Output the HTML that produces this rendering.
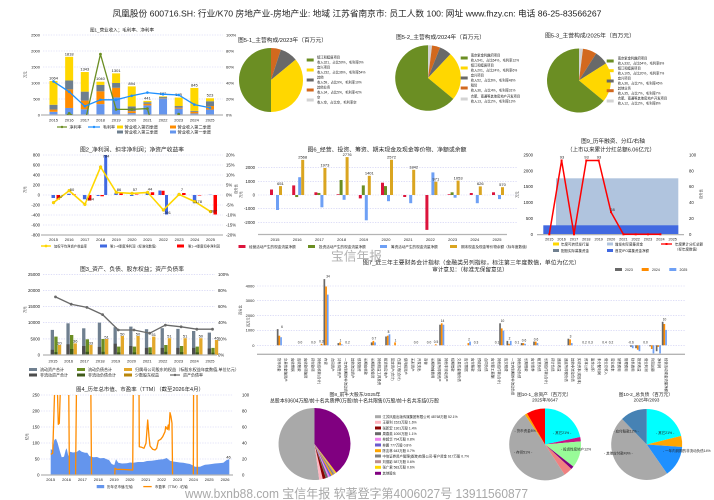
<!DOCTYPE html>
<html><head><meta charset="utf-8">
<style>
html,body{margin:0;padding:0;background:#fff;}
svg{display:block;}
text{font-family:"Liberation Sans","Noto Sans CJK SC",sans-serif;fill:#222;}
.g{stroke:#c9c9f2;stroke-width:.6;stroke-dasharray:1.3,1.3;fill:none;}
.ax{stroke:#b4b4b4;stroke-width:1.3;}
.tk{font-size:4.3px;}
.tk1{font-size:4px;}
.ttl{font-size:5.6px;}
.lg{font-size:3.5px;}
.sm{font-size:3.3px;}
.vl{font-size:3.4px;fill:#333;}
</style></head><body>
<svg width="714" height="500" viewBox="0 0 714 500" xmlns="http://www.w3.org/2000/svg">
<defs>
<clipPath id="c1"><rect x="41" y="33" width="185" height="82"/></clipPath>
<clipPath id="c4"><rect x="40" y="395" width="194" height="80"/></clipPath>
</defs>
<rect width="714" height="500" fill="#fff"/>

<!-- HEADER -->
<text x="357" y="16.5" text-anchor="middle" style="font-size:8.5px" textLength="489" lengthAdjust="spacingAndGlyphs">凤凰股份 600716.SH:  行业/K70 房地产业-房地产业:  地域 江苏省南京市:  员工人数 100:  网址 www.fhzy.cn:  电话 86-25-83566267</text>

<!-- ============ CHART 1 ============ -->
<text x="122" y="31.5" text-anchor="middle" style="font-size:4.6px" textLength="64" lengthAdjust="spacingAndGlyphs">图1_营业收入；毛利率、净利率</text>
<g>
<line class="g" x1="43" y1="35" x2="223" y2="35"/><line class="g" x1="43" y1="51" x2="223" y2="51"/><line class="g" x1="43" y1="67" x2="223" y2="67"/><line class="g" x1="43" y1="83" x2="223" y2="83"/><line class="g" x1="43" y1="99" x2="223" y2="99"/>
</g>
<g class="tk1" text-anchor="end">
<text x="40" y="36.5">2500</text><text x="40" y="52.5">2000</text><text x="40" y="68.5">1500</text><text x="40" y="84.5">1000</text><text x="40" y="100.5">500</text><text x="40" y="116.5">0</text>
</g>
<g class="tk1">
<text x="226" y="36.5">100%</text><text x="226" y="52.5">80%</text><text x="226" y="68.5">60%</text><text x="226" y="84.5">40%</text><text x="226" y="100.5">20%</text><text x="226" y="116.5">0%</text>
</g>
<text class="sm" transform="translate(26.5,78) rotate(-90)">万元</text>
<g>
<rect x="49.5" y="111.8" width="8" height="3.2" fill="#6495ed"/><rect x="49.5" y="109.56" width="8" height="2.24" fill="#ff8c00"/><rect x="49.5" y="104.76" width="8" height="4.8" fill="#6e7f8f"/><rect x="49.5" y="80.95" width="8" height="23.81" fill="#ffd700"/>
<rect x="65.15" y="107.96" width="8" height="7.04" fill="#6495ed"/><rect x="65.15" y="89.4" width="8" height="18.56" fill="#ff8c00"/><rect x="65.15" y="80.44" width="8" height="8.96" fill="#6e7f8f"/><rect x="65.15" y="56.82" width="8" height="23.62" fill="#ffd700"/>
<rect x="80.8" y="109.24" width="8" height="5.76" fill="#6495ed"/><rect x="80.8" y="100.6" width="8" height="8.64" fill="#ff8c00"/><rect x="80.8" y="91.64" width="8" height="8.96" fill="#6e7f8f"/><rect x="80.8" y="72.02" width="8" height="19.62" fill="#ffd700"/>
<rect x="96.45" y="104.12" width="8" height="10.88" fill="#6495ed"/><rect x="96.45" y="91.32" width="8" height="12.8" fill="#ff8c00"/><rect x="96.45" y="84.92" width="8" height="6.4" fill="#6e7f8f"/><rect x="96.45" y="81.72" width="8" height="3.2" fill="#ffd700"/>
<rect x="112.1" y="97.4" width="8" height="17.6" fill="#6495ed"/><rect x="112.1" y="87.8" width="8" height="9.6" fill="#ff8c00"/><rect x="112.1" y="83" width="8" height="4.8" fill="#6e7f8f"/><rect x="112.1" y="73.37" width="8" height="9.63" fill="#ffd700"/>
<rect x="127.75" y="113.08" width="8" height="1.92" fill="#6495ed"/><rect x="127.75" y="111.16" width="8" height="1.92" fill="#ff8c00"/><rect x="127.75" y="106.36" width="8" height="4.8" fill="#6e7f8f"/><rect x="127.75" y="86.39" width="8" height="19.97" fill="#ffd700"/>
<rect x="143.4" y="105.4" width="8" height="9.6" fill="#6495ed"/><rect x="143.4" y="103.8" width="8" height="1.6" fill="#ff8c00"/><rect x="143.4" y="102.2" width="8" height="1.6" fill="#6e7f8f"/><rect x="143.4" y="100.89" width="8" height="1.31" fill="#ffd700"/>
<rect x="159.05" y="98.68" width="8" height="16.32" fill="#6495ed"/><rect x="159.05" y="98.36" width="8" height=".32" fill="#ff8c00"/><rect x="159.05" y="97.08" width="8" height="1.28" fill="#6e7f8f"/><rect x="159.05" y="96.38" width="8" height=".7" fill="#ffd700"/>
<rect x="174.7" y="108.6" width="8" height="6.4" fill="#6495ed"/><rect x="174.7" y="107.64" width="8" height=".96" fill="#ff8c00"/><rect x="174.7" y="106.04" width="8" height="1.6" fill="#6e7f8f"/><rect x="174.7" y="97.56" width="8" height="8.48" fill="#ffd700"/>
<rect x="190.35" y="113.4" width="8" height="1.6" fill="#6495ed"/><rect x="190.35" y="111.8" width="8" height="1.6" fill="#ff8c00"/><rect x="190.35" y="110.84" width="8" height=".96" fill="#6e7f8f"/><rect x="190.35" y="87.96" width="8" height="22.88" fill="#ffd700"/>
<rect x="206" y="109.56" width="8" height="5.44" fill="#6495ed"/><rect x="206" y="106.04" width="8" height="3.52" fill="#ff8c00"/><rect x="206" y="101.24" width="8" height="4.8" fill="#6e7f8f"/><rect x="206" y="98.26" width="8" height="2.98" fill="#ffd700"/>
</g>
<line class="ax" x1="41" y1="115" x2="223" y2="115"/>
<g class="tk1" text-anchor="middle">
<text x="53.5" y="79.5">1064</text><text x="69.15" y="55.3">1818</text><text x="84.8" y="70.5">1343</text><text x="100.45" y="80.2">1040</text><text x="116.1" y="71.8">1301</text><text x="131.75" y="84.9">894</text><text x="147.4" y="99.4">441</text><text x="163.05" y="94.9">582</text><text x="178.7" y="96">545</text><text x="194.35" y="86.4">845</text><text x="210" y="96.7">523</text>
</g>
<g clip-path="url(#c1)">
<polyline points="53.5,126.2 69.15,113.4 84.8,123 100.45,54.2 116.1,109.4 131.75,109.4 147.4,108.6 163.05,163 178.7,114.2 194.35,131 210,171" fill="none" stroke="#6b8e23" stroke-width="1.3"/>
<g fill="#6b8e23"><circle cx="69.15" cy="113.4" r="1.4"/><circle cx="100.45" cy="54.2" r="1.4"/><circle cx="116.1" cy="109.4" r="1.4"/><circle cx="131.75" cy="109.4" r="1.4"/><circle cx="147.4" cy="108.6" r="1.4"/><circle cx="178.7" cy="114.2" r="1.4"/></g>
</g>
<polyline points="53.5,81.4 69.15,91.8 84.8,106.2 100.45,99.8 116.1,99.8 131.75,95.8 147.4,92.6 163.05,94.2 178.7,95 194.35,104.6 210,107.8" fill="none" stroke="#1e90ff" stroke-width="1.3"/>
<g fill="#1e90ff"><circle cx="53.5" cy="81.4" r="1.3"/><circle cx="69.15" cy="91.8" r="1.3"/><circle cx="84.8" cy="106.2" r="1.3"/><circle cx="100.45" cy="99.8" r="1.3"/><circle cx="116.1" cy="99.8" r="1.3"/><circle cx="131.75" cy="95.8" r="1.3"/><circle cx="147.4" cy="92.6" r="1.3"/><circle cx="163.05" cy="94.2" r="1.3"/><circle cx="178.7" cy="95" r="1.3"/><circle cx="194.35" cy="104.6" r="1.3"/><circle cx="210" cy="107.8" r="1.3"/></g>
<g class="tk1" text-anchor="middle">
<text x="53.5" y="121.3">2015</text><text x="69.15" y="121.3">2016</text><text x="84.8" y="121.3">2017</text><text x="100.45" y="121.3">2018</text><text x="116.1" y="121.3">2019</text><text x="131.75" y="121.3">2020</text><text x="147.4" y="121.3">2021</text><text x="163.05" y="121.3">2022</text><text x="178.7" y="121.3">2023</text><text x="194.35" y="121.3">2024</text><text x="210" y="121.3">2025</text>
</g>
<line x1="57" y1="127" x2="67" y2="127" stroke="#6b8e23" stroke-width="1.2"/><circle cx="62" cy="127" r="1.2" fill="#6b8e23"/>
<text x="69.5" y="128.6" style="font-size:4px">净利率</text>
<line x1="88" y1="127" x2="100" y2="127" stroke="#1e90ff" stroke-width="1.2"/><circle cx="94" cy="127" r="1.2" fill="#1e90ff"/>
<text x="103" y="128.6" style="font-size:4px">毛利率</text>
<rect x="117" y="125.5" width="6" height="3" fill="#ffd700"/><text x="124.5" y="128.6" style="font-size:4.2px">营业收入第四季度</text>
<rect x="170" y="125.5" width="6" height="3" fill="#ff8c00"/><text x="177.5" y="128.6" style="font-size:4.2px">营业收入第二季度</text>
<rect x="117" y="130.5" width="6" height="3" fill="#6e7f8f"/><text x="124.5" y="133.6" style="font-size:4.2px">营业收入第三季度</text>
<rect x="170" y="130.5" width="6" height="3" fill="#6495ed"/><text x="177.5" y="133.6" style="font-size:4.2px">营业收入第一季度</text>

<!-- ============ PIE 5-1 ============ -->
<text x="238" y="42" class="ttl" textLength="89" lengthAdjust="spacingAndGlyphs">图5-1_主营构成/2023年（百万元）</text>
<path d="M271,80 L271,48 A32,32 0 0 1 280.89,49.57 Z" fill="#d2691e"/>
<path d="M271,80 L280.89,49.57 A32,32 0 0 1 295.66,59.6 Z" fill="#696969"/>
<path d="M271,80 L295.66,59.6 A32,32 0 0 1 271,112 Z" fill="#ffd700"/>
<path d="M271,80 L271,112 A32,32 0 0 1 271,48 Z" fill="#6b8e23"/>
<g class="sm">
<rect x="306.7" y="58.5" width="7" height="3" fill="#6b8e23"/><text x="317" y="58.7">镇江和睦居项目</text><text x="317" y="63.7">收入321，占比50%，毛利率0%</text>
<rect x="306.7" y="68.5" width="7" height="3" fill="#ffd700"/><text x="317" y="68.7">宜兴项目</text><text x="317" y="73.7">收入232，占比36%，毛利率54%</text>
<rect x="306.7" y="78.5" width="7" height="3" fill="#696969"/><text x="317" y="78.7">其他</text><text x="317" y="83.7">收入59，占比9%，毛利率10%</text>
<rect x="306.7" y="88.5" width="7" height="3" fill="#d2691e"/><text x="317" y="88.7">其他业务</text><text x="317" y="93.7">收入34，占比5%，毛利率42%</text>
<rect x="306.7" y="98.5" width="7" height="3" fill="#d3d3d3"/><text x="317" y="98.7">空</text><text x="317" y="103.7">收入空，占比空，毛利率空</text>
</g>

<!-- ============ PIE 5-2 ============ -->
<text x="396" y="39" class="ttl" textLength="89" lengthAdjust="spacingAndGlyphs">图5-2_主营构成/2024年（百万元）</text>
<path d="M428,78 L428,45.2 A32.8,32.8 0 0 1 432.11,45.46 Z" fill="#d3d3d3"/>
<path d="M428,78 L432.11,45.46 A32.8,32.8 0 0 1 440.07,47.5 Z" fill="#d2691e"/>
<path d="M428,78 L440.07,47.5 A32.8,32.8 0 0 1 450.45,54.09 Z" fill="#696969"/>
<path d="M428,78 L450.45,54.09 A32.8,32.8 0 0 1 453.27,98.91 Z" fill="#ffd700"/>
<path d="M428,78 L453.27,98.91 A32.8,32.8 0 1 1 428,45.2 Z" fill="#6b8e23"/>
<g class="sm">
<rect x="460.7" y="56.5" width="7" height="3" fill="#6b8e23"/><text x="470.7" y="56.7">南京紫金利趣府项目</text><text x="470.7" y="61.7">收入541，占比64%，毛利率12%</text>
<rect x="460.7" y="66.5" width="7" height="3" fill="#ffd700"/><text x="470.7" y="66.7">镇江和睦居项目</text><text x="470.7" y="71.7">收入201，占比24%，毛利率6%</text>
<rect x="460.7" y="76.5" width="7" height="3" fill="#696969"/><text x="470.7" y="76.7">宜兴项目</text><text x="470.7" y="81.7">收入52，占比6%，毛利率48%</text>
<rect x="460.7" y="86.5" width="7" height="3" fill="#d2691e"/><text x="470.7" y="86.7">租赁</text><text x="470.7" y="91.7">收入36，占比4%，毛利率31%</text>
<rect x="460.7" y="97.5" width="7" height="3" fill="#d3d3d3"/><text x="470.7" y="97.7">合肥、南通等其他房地产开发项目</text><text x="470.7" y="102.7">收入13，占比2%，毛利率13%</text>
</g>

<!-- ============ PIE 5-3 ============ -->
<text x="545" y="37.7" class="ttl" textLength="90" lengthAdjust="spacingAndGlyphs">图5-3_主营构成/2025年（百万元）</text>
<path d="M579,80.5 L579,48.5 A32,32 0 0 1 583.01,48.75 Z" fill="#d3d3d3"/>
<path d="M579,80.5 L583.01,48.75 A32,32 0 0 1 596.15,53.48 Z" fill="#d2691e"/>
<path d="M579,80.5 L596.15,53.48 A32,32 0 0 1 606.02,63.35 Z" fill="#696969"/>
<path d="M579,80.5 L606.02,63.35 A32,32 0 0 1 603.66,100.9 Z" fill="#ffd700"/>
<path d="M579,80.5 L603.66,100.9 A32,32 0 1 1 579,48.5 Z" fill="#6b8e23"/>
<g class="sm">
<rect x="606.7" y="59.5" width="7" height="3" fill="#6b8e23"/><text x="617.7" y="59.7">南京紫金利趣府项目</text><text x="617.7" y="64.7">收入332，占比64%，毛利率8%</text>
<rect x="606.7" y="69.2" width="7" height="3" fill="#ffd700"/><text x="617.7" y="69.4">镇江和睦居项目</text><text x="617.7" y="74.4">收入105，占比20%，毛利率7%</text>
<rect x="606.7" y="79.5" width="7" height="3" fill="#696969"/><text x="617.7" y="79.7">宜兴项目</text><text x="617.7" y="84.7">收入36，占比7%，毛利率45%</text>
<rect x="606.7" y="89.2" width="7" height="3" fill="#d2691e"/><text x="617.7" y="89.4">其他业务</text><text x="617.7" y="94.4">收入35，占比7%，毛利率7%</text>
<rect x="606.7" y="99.5" width="7" height="3" fill="#d3d3d3"/><text x="617.7" y="99.7">合肥、南通等其他房地产开发项目</text><text x="617.7" y="104.7">收入12，占比2%，毛利率8%</text>
</g>

<!-- ============ CHART 2 ============ -->
<text x="132" y="151.5" text-anchor="middle" class="ttl" textLength="104" lengthAdjust="spacingAndGlyphs">图2_净利润、扣非净利润；净资产收益率</text>
<g>
<line class="g" x1="43" y1="155" x2="223" y2="155"/><line class="g" x1="43" y1="165" x2="223" y2="165"/><line class="g" x1="43" y1="175" x2="223" y2="175"/><line class="g" x1="43" y1="185" x2="223" y2="185"/><line class="g" x1="43" y1="195" x2="223" y2="195"/><line class="g" x1="43" y1="205" x2="223" y2="205"/><line class="g" x1="43" y1="215" x2="223" y2="215"/><line class="g" x1="43" y1="225" x2="223" y2="225"/>
</g>
<g class="tk" text-anchor="end">
<text x="40" y="156.5">800</text><text x="40" y="166.5">600</text><text x="40" y="176.5">400</text><text x="40" y="186.5">200</text><text x="40" y="196.5">0</text><text x="40" y="206.5">-200</text><text x="40" y="216.5">-400</text><text x="40" y="226.5">-600</text><text x="40" y="236.5">-800</text>
</g>
<g class="tk">
<text x="226" y="156.5">20%</text><text x="226" y="166.5">15%</text><text x="226" y="176.5">10%</text><text x="226" y="186.5">5%</text><text x="226" y="196.5">0%</text><text x="226" y="206.5">-5%</text><text x="226" y="216.5">-10%</text><text x="226" y="226.5">-15%</text><text x="226" y="236.5">-20%</text>
</g>
<text class="sm" transform="translate(26,193) rotate(-90)">万元</text>
<text class="sm" transform="translate(237,194) rotate(-90)">百分比</text>
<g>
<rect x="51.5" y="195" width="3.5" height="3" fill="#4169e1"/><rect x="56.5" y="195" width="3.5" height="4.5" fill="#ff0000"/>
<rect x="67.2" y="193.75" width="3.5" height="1.25" fill="#4169e1"/><rect x="72.2" y="194.25" width="3.5" height=".75" fill="#ff0000"/>
<rect x="82.9" y="195" width="3.5" height="4.25" fill="#4169e1"/><rect x="87.9" y="195" width="3.5" height="5.5" fill="#ff0000"/>
<rect x="96.6" y="195" width="3" height="1" fill="#4169e1"/><rect x="100.4" y="195" width="3.5" height="1.25" fill="#ff0000"/><rect x="104.2" y="155" width="3" height="40" fill="#4169e1"/>
<rect x="114.3" y="193.25" width="3.5" height="1.75" fill="#4169e1"/><rect x="119.3" y="193.5" width="3.5" height="1.5" fill="#ff0000"/>
<rect x="130" y="195" width="3.5" height="1" fill="#4169e1"/><rect x="135" y="194.5" width="3.5" height=".5" fill="#ff0000"/>
<rect x="145.7" y="193" width="3.5" height="2" fill="#4169e1"/><rect x="150.7" y="192.25" width="3.5" height="2.75" fill="#ff0000"/>
<rect x="158.4" y="190.5" width="3" height="4.5" fill="#4169e1"/><rect x="161.6" y="190.75" width="3" height="4.25" fill="#ff0000"/><rect x="165" y="195" width="3" height="19.5" fill="#4169e1"/>
<rect x="177.1" y="194.7" width="3.5" height=".3" fill="#4169e1"/><rect x="182.1" y="193" width="3.5" height="2" fill="#ff0000"/>
<rect x="192.8" y="195" width="3.5" height="8.25" fill="#4169e1"/><rect x="197.8" y="195" width="3.5" height=".5" fill="#ff0000"/>
<rect x="208.5" y="194.75" width="3.5" height=".25" fill="#4169e1"/><rect x="213.5" y="195" width="3.5" height="19.5" fill="#ff0000"/>
</g>
<line class="ax" x1="41" y1="235" x2="223" y2="235"/>
<polyline points="53.5,202.6 69.2,190.6 84.9,204.4 100.6,167 116.3,192.4 132,193.4 147.7,192.4 163.4,210 179.1,194.4 194.8,201.6 210.5,211.6" fill="none" stroke="#ffd700" stroke-width="1.6"/>
<g fill="#ffd700" stroke="#e0b800" stroke-width=".3"><circle cx="53.5" cy="202.6" r="1.5"/><circle cx="69.2" cy="190.6" r="1.5"/><circle cx="84.9" cy="204.4" r="1.5"/><circle cx="100.6" cy="167" r="1.5"/><circle cx="116.3" cy="192.4" r="1.5"/><circle cx="132" cy="193.4" r="1.5"/><circle cx="147.7" cy="192.4" r="1.5"/><circle cx="163.4" cy="210" r="1.5"/><circle cx="179.1" cy="194.4" r="1.5"/><circle cx="194.8" cy="201.6" r="1.5"/><circle cx="210.5" cy="211.6" r="1.5"/></g>
<g class="tk1" text-anchor="middle">
<text x="60" y="198">-67</text><text x="72" y="191">50</text><text x="90" y="200.5">-104</text><text x="106" y="157.5">784</text><text x="119" y="191">86</text><text x="135" y="191">57</text><text x="150" y="190.5">44</text><text x="167" y="214">-391</text><text x="182" y="191">7</text><text x="198" y="203">-178</text><text x="213" y="212.5">-387</text>
</g>
<g class="tk1" text-anchor="middle">
<text x="53.5" y="240.8">2015</text><text x="69.2" y="240.8">2016</text><text x="84.9" y="240.8">2017</text><text x="100.6" y="240.8">2018</text><text x="116.3" y="240.8">2019</text><text x="132" y="240.8">2020</text><text x="147.7" y="240.8">2021</text><text x="163.4" y="240.8">2022</text><text x="179.1" y="240.8">2023</text><text x="194.8" y="240.8">2024</text><text x="210.5" y="240.8">2025</text>
</g>
<line x1="41" y1="246" x2="51" y2="246" stroke="#ffd700" stroke-width="1.4"/><circle cx="46" cy="246" r="1.4" fill="#ffd700"/>
<text x="54" y="247.3" class="sm">加权平均净资产收益率</text>
<rect x="100" y="244.5" width="7" height="3" fill="#4169e1"/><text x="110" y="247.3" class="sm">第1~4季度净利润（标准化数值）</text>
<rect x="177" y="244.5" width="7" height="3" fill="#ff0000"/><text x="188" y="247.3" class="sm">第1~4季度扣非净利润</text>

<!-- ============ CHART 6 ============ -->
<text x="387" y="151.5" text-anchor="middle" class="ttl" textLength="159" lengthAdjust="spacingAndGlyphs">图6_经营、投资、筹资、期末现金及现金等价物、净额或余额</text>
<g>
<line class="g" x1="258" y1="167.3" x2="518" y2="167.3"/><line class="g" x1="258" y1="181.3" x2="518" y2="181.3"/><line class="g" x1="258" y1="195" x2="518" y2="195"/><line class="g" x1="258" y1="208.7" x2="518" y2="208.7"/><line class="g" x1="258" y1="222.3" x2="518" y2="222.3"/>
</g>
<g class="tk" text-anchor="end">
<text x="255" y="168.8">2000</text><text x="255" y="182.8">1000</text><text x="255" y="196.5">0</text><text x="255" y="210.2">-1000</text><text x="255" y="223.8">-2000</text>
</g>
<text class="sm" transform="translate(242,198) rotate(-90)">万元</text>
<g>
<rect x="270" y="189.5" width="3" height="5.5" fill="#dc143c"/><rect x="276" y="195" width="3" height="15" fill="#6ea0f5"/><rect x="279" y="186.1" width="3" height="8.9" fill="#daa520"/>
<rect x="292.2" y="185.4" width="3" height="9.6" fill="#dc143c"/><rect x="295.2" y="195" width="3" height="2.05" fill="#6b8e23"/><rect x="298.2" y="177.2" width="3" height="17.8" fill="#6ea0f5"/><rect x="301.2" y="159.9" width="3" height="35.1" fill="#daa520"/>
<rect x="314.4" y="192.3" width="3" height="2.7" fill="#dc143c"/><rect x="317.4" y="192.95" width="3" height="2.05" fill="#6b8e23"/><rect x="320.4" y="195" width="3" height="12.3" fill="#6ea0f5"/><rect x="323.4" y="168" width="3" height="27" fill="#daa520"/>
<rect x="336.6" y="194.3" width="3" height=".7" fill="#dc143c"/><rect x="339.6" y="180" width="3" height="15" fill="#6b8e23"/><rect x="342.6" y="195" width="3" height="4.8" fill="#6ea0f5"/><rect x="345.6" y="157.1" width="3" height="37.9" fill="#daa520"/>
<rect x="358.8" y="195" width="3" height="3.4" fill="#dc143c"/><rect x="361.8" y="185.4" width="3" height="9.6" fill="#6b8e23"/><rect x="364.8" y="195" width="3" height="25.3" fill="#6ea0f5"/><rect x="367.8" y="175.8" width="3" height="19.2" fill="#daa520"/>
<rect x="381" y="182.7" width="3" height="12.3" fill="#dc143c"/><rect x="384" y="186.1" width="3" height="8.9" fill="#6b8e23"/><rect x="387" y="195" width="3" height="6.2" fill="#6ea0f5"/><rect x="390" y="159.8" width="3" height="35.2" fill="#daa520"/>
<rect x="403.2" y="195" width="3" height="2" fill="#dc143c"/><rect x="409.2" y="195" width="3" height="8.2" fill="#6ea0f5"/><rect x="412.2" y="169.8" width="3" height="25.2" fill="#daa520"/>
<rect x="425.4" y="195" width="3" height="34.9" fill="#dc143c"/><rect x="431.4" y="172.4" width="3" height="22.6" fill="#6ea0f5"/><rect x="434.4" y="181.7" width="3" height="13.3" fill="#daa520"/>
<rect x="447.6" y="194.3" width="3" height=".7" fill="#dc143c"/><rect x="450.6" y="192.3" width="3" height="2.7" fill="#6b8e23"/><rect x="453.6" y="195" width="3" height="2.7" fill="#6ea0f5"/><rect x="456.6" y="180.6" width="3" height="14.4" fill="#daa520"/>
<rect x="469.8" y="193" width="3" height="2" fill="#dc143c"/><rect x="475.8" y="195" width="3" height="8.2" fill="#6ea0f5"/><rect x="478.8" y="186.4" width="3" height="8.6" fill="#daa520"/>
<rect x="492" y="192.3" width="3" height="2.7" fill="#dc143c"/><rect x="498" y="195" width="3" height="4.1" fill="#6ea0f5"/><rect x="501" y="187.2" width="3" height="7.8" fill="#daa520"/>
</g>
<line class="ax" x1="258" y1="234.5" x2="507" y2="234.5"/>
<g class="tk1" text-anchor="middle">
<text x="280.5" y="184.8">651</text><text x="302.7" y="158.6">2568</text><text x="324.9" y="166.7">1973</text><text x="347.1" y="155.8">2776</text><text x="369.3" y="174.5">1401</text><text x="391.5" y="158.5">2572</text><text x="413.7" y="168.5">1842</text><text x="435.9" y="180.4">971</text><text x="458.1" y="179.3">1053</text><text x="480.3" y="185.1">626</text><text x="502.5" y="185.9">570</text>
</g>
<g class="tk1" text-anchor="middle">
<text x="275" y="240.8">2015</text><text x="297.2" y="240.8">2016</text><text x="319.4" y="240.8">2017</text><text x="341.6" y="240.8">2018</text><text x="363.8" y="240.8">2019</text><text x="386" y="240.8">2020</text><text x="408.2" y="240.8">2021</text><text x="430.4" y="240.8">2022</text><text x="452.6" y="240.8">2023</text><text x="474.8" y="240.8">2024</text><text x="497" y="240.8">2025</text>
</g>
<g style="font-size:3.6px">
<rect x="238.5" y="245" width="7" height="3" fill="#dc143c"/><text x="249" y="248">经营活动产生的现金流量净额</text>
<rect x="308" y="245" width="7" height="3" fill="#6b8e23"/><text x="319" y="248">投资活动产生的现金流量净额</text>
<rect x="380" y="245" width="7" height="3" fill="#6ea0f5"/><text x="391" y="248">筹资活动产生的现金流量净额</text>
<rect x="450" y="245" width="7" height="3" fill="#daa520"/><text x="461" y="248">期末现金及现金等价物余额（标年度数值）</text>
</g>

<!-- ============ CHART 9 ============ -->
<text x="613" y="143" text-anchor="middle" class="ttl">图9_历年融资、分红/右轴</text>
<text x="611" y="151.3" text-anchor="middle" class="ttl" textLength="88" lengthAdjust="spacingAndGlyphs">（上市以来累计分红总额6.06亿元）</text>
<g class="tk" text-anchor="end">
<text x="533" y="156.5">2500</text><text x="533" y="172.4">2000</text><text x="533" y="188.2">1500</text><text x="533" y="204.1">1000</text><text x="533" y="219.9">500</text><text x="533" y="235.8">0</text>
</g>
<g class="tk">
<text x="689" y="156.5">100</text><text x="689" y="172.4">80</text><text x="689" y="188.2">60</text><text x="689" y="204.1">40</text><text x="689" y="219.9">20</text><text x="689" y="235.8">0</text>
</g>
<text class="sm" transform="translate(518.5,198) rotate(-90)">万元</text>
<text class="sm" transform="translate(702,199) rotate(-90)">百分比</text>
<rect x="556" y="178.3" width="122.3" height="56" fill="#b0c4de"/>
<rect x="543.3" y="225.3" width="135" height="9" fill="#4169e1"/>
<line class="ax" x1="537" y1="234.6" x2="684" y2="234.6"/>
<polyline points="549.3,234.3 561.6,160.5 574,234.3 586.3,160.5 598.7,160.5 611,212.1 623.4,234.3 635.7,234.3 648,234.3 660.4,234.3" fill="none" stroke="#ff0000" stroke-width="1.5"/>
<g fill="#ff0000"><rect x="548.3" y="233.3" width="2" height="2"/><rect x="560.6" y="159.5" width="2" height="2"/><rect x="573" y="233.3" width="2" height="2"/><rect x="585.3" y="159.5" width="2" height="2"/><rect x="597.7" y="159.5" width="2" height="2"/><rect x="610" y="211.1" width="2" height="2"/><rect x="622.4" y="233.3" width="2" height="2"/><rect x="634.7" y="233.3" width="2" height="2"/><rect x="647" y="233.3" width="2" height="2"/><rect x="659.4" y="233.3" width="2" height="2"/></g>
<g class="tk1" text-anchor="middle">
<text x="562" y="158.5">93</text><text x="586.5" y="158.5">93</text><text x="599" y="158.5">93</text><text x="612.5" y="211">28</text>
</g>
<g style="font-size:3.8px" text-anchor="middle">
<text x="549.3" y="240.5">2015</text><text x="561.6" y="240.5">2016</text><text x="574" y="240.5">2017</text><text x="586.3" y="240.5">2018</text><text x="598.7" y="240.5">2019</text><text x="611" y="240.5">2020</text><text x="623.4" y="240.5">2021</text><text x="635.7" y="240.5">2022</text><text x="648" y="240.5">2023</text><text x="660.4" y="240.5">2024</text><text x="672.7" y="240.5">2025</text>
</g>
<g class="lg">
<rect x="553" y="242.5" width="6" height="3" fill="#ffd700"/><text x="561" y="245.5">年度可转债发行量</text>
<rect x="607" y="242.5" width="6" height="3" fill="#b0c4de"/><text x="615" y="245.5">增发实际募集资金</text>
<line x1="661" y1="244" x2="672" y2="244" stroke="#ff0000" stroke-width="1.3"/><rect x="665.5" y="243" width="2" height="2" fill="#ff0000"/>
<text x="675" y="245.5">年度累计分红总额</text><text x="675" y="250.5">（标年度数值）</text>
<rect x="553" y="249" width="6" height="3" fill="#708090"/><text x="561" y="252">配股实际募集资金</text>
<rect x="607" y="249" width="6" height="3" fill="#4169e1"/><text x="615" y="252">首发IPO募集资金净额</text>
</g>

<!-- ============ CHART 3 ============ -->
<text x="132" y="271" text-anchor="middle" class="ttl" textLength="104" lengthAdjust="spacingAndGlyphs">图3_资产、负债、股东权益；资产负债率</text>
<g>
<line class="g" x1="43" y1="274.3" x2="215" y2="274.3"/><line class="g" x1="43" y1="290.4" x2="215" y2="290.4"/><line class="g" x1="43" y1="306.6" x2="215" y2="306.6"/><line class="g" x1="43" y1="322.7" x2="215" y2="322.7"/><line class="g" x1="43" y1="338.9" x2="215" y2="338.9"/>
</g>
<g class="tk" text-anchor="end">
<text x="40" y="275.8">25000</text><text x="40" y="291.9">20000</text><text x="40" y="308.1">15000</text><text x="40" y="324.2">10000</text><text x="40" y="340.4">5000</text><text x="40" y="356.5">0</text>
</g>
<g class="tk">
<text x="218" y="275.8">100%</text><text x="218" y="291.9">80%</text><text x="218" y="308.1">60%</text><text x="218" y="324.2">40%</text><text x="218" y="340.4">20%</text><text x="218" y="356.5">0%</text>
</g>
<text class="sm" transform="translate(26,313) rotate(-90)">万元</text>
<text class="sm" transform="translate(241.5,315) rotate(-90)">百分比</text>
<g>
<rect x="50.7" y="329.9" width="3.3" height="25.1" fill="#708090"/><rect x="50.7" y="349.8" width="3.3" height="5.2" fill="#4d4d4d"/>
<rect x="54.3" y="336.6" width="3.3" height="18.4" fill="#6b8e23"/><rect x="54.3" y="352.1" width="3.3" height="2.9" fill="#3f5a1a"/>
<rect x="57.9" y="345" width="3.3" height="10" fill="#e3a82b"/>
<rect x="66.4" y="323.3" width="3.3" height="31.7" fill="#708090"/><rect x="66.4" y="344.3" width="3.3" height="10.7" fill="#4d4d4d"/>
<rect x="70" y="335" width="3.3" height="20" fill="#6b8e23"/><rect x="70" y="349" width="3.3" height="6" fill="#3f5a1a"/>
<rect x="73.6" y="343.4" width="3.3" height="11.6" fill="#e3a82b"/>
<rect x="82.1" y="328.3" width="3.3" height="26.7" fill="#708090"/><rect x="82.1" y="346" width="3.3" height="9" fill="#4d4d4d"/>
<rect x="85.7" y="339.3" width="3.3" height="15.7" fill="#6b8e23"/><rect x="85.7" y="351.8" width="3.3" height="3.2" fill="#3f5a1a"/>
<rect x="89.3" y="345" width="3.3" height="10" fill="#e3a82b"/>
<rect x="97.8" y="322.6" width="3.3" height="32.4" fill="#708090"/><rect x="97.8" y="346.9" width="3.3" height="8.1" fill="#4d4d4d"/>
<rect x="101.4" y="339" width="3.3" height="16" fill="#6b8e23"/><rect x="101.4" y="351.8" width="3.3" height="3.2" fill="#3f5a1a"/>
<rect x="105" y="339" width="3.3" height="16" fill="#e3a82b"/>
<rect x="113.5" y="327.2" width="3.3" height="27.8" fill="#708090"/><rect x="113.5" y="343.7" width="3.3" height="11.3" fill="#4d4d4d"/>
<rect x="117.1" y="346.6" width="3.3" height="8.4" fill="#6b8e23"/><rect x="117.1" y="352.4" width="3.3" height="2.6" fill="#3f5a1a"/>
<rect x="120.7" y="336" width="3.3" height="19" fill="#e3a82b"/>
<rect x="129.2" y="326.6" width="3.3" height="28.4" fill="#708090"/><rect x="129.2" y="346" width="3.3" height="9" fill="#4d4d4d"/>
<rect x="132.8" y="346.6" width="3.3" height="8.4" fill="#6b8e23"/><rect x="132.8" y="352.4" width="3.3" height="2.6" fill="#3f5a1a"/>
<rect x="136.4" y="336" width="3.3" height="19" fill="#e3a82b"/>
<rect x="144.9" y="329.2" width="3.3" height="25.8" fill="#708090"/><rect x="144.9" y="347.9" width="3.3" height="7.1" fill="#4d4d4d"/>
<rect x="148.5" y="347.3" width="3.3" height="7.7" fill="#6b8e23"/><rect x="148.5" y="353.1" width="3.3" height="1.9" fill="#3f5a1a"/>
<rect x="152.1" y="336.6" width="3.3" height="18.4" fill="#e3a82b"/>
<rect x="160.6" y="328.2" width="3.3" height="26.8" fill="#708090"/><rect x="160.6" y="347.9" width="3.3" height="7.1" fill="#4d4d4d"/>
<rect x="164.2" y="345" width="3.3" height="10" fill="#6b8e23"/><rect x="164.2" y="351.8" width="3.3" height="3.2" fill="#3f5a1a"/>
<rect x="167.8" y="338.2" width="3.3" height="16.8" fill="#e3a82b"/>
<rect x="176.3" y="328.9" width="3.3" height="26.1" fill="#708090"/><rect x="176.3" y="347.9" width="3.3" height="7.1" fill="#4d4d4d"/>
<rect x="179.9" y="346" width="3.3" height="9" fill="#6b8e23"/><rect x="179.9" y="352.1" width="3.3" height="2.9" fill="#3f5a1a"/>
<rect x="183.5" y="338.2" width="3.3" height="16.8" fill="#e3a82b"/>
<rect x="192" y="331" width="3.3" height="24" fill="#708090"/><rect x="192" y="347.9" width="3.3" height="7.1" fill="#4d4d4d"/>
<rect x="195.6" y="346.6" width="3.3" height="8.4" fill="#6b8e23"/><rect x="195.6" y="352.4" width="3.3" height="2.6" fill="#3f5a1a"/>
<rect x="199.2" y="338.2" width="3.3" height="16.8" fill="#e3a82b"/>
<rect x="207.7" y="332.6" width="3.3" height="22.4" fill="#708090"/><rect x="207.7" y="348.5" width="3.3" height="6.5" fill="#4d4d4d"/>
<rect x="211.3" y="347.9" width="3.3" height="7.1" fill="#6b8e23"/><rect x="211.3" y="352.7" width="3.3" height="2.3" fill="#3f5a1a"/>
<rect x="214.9" y="340" width="3.3" height="15" fill="#e3a82b"/>
</g>
<line class="ax" x1="43" y1="355" x2="217" y2="355"/>
<g class="tk1" text-anchor="middle">
<text x="59.5" y="344.3">20</text><text x="75.2" y="342.7">36</text><text x="90.9" y="344.3">33</text><text x="106.6" y="338.3">51</text><text x="122.3" y="335.3">50</text><text x="138" y="335.3">50</text><text x="153.7" y="335.9">51</text><text x="169.4" y="337.5">51</text><text x="185.1" y="337.5">51</text><text x="200.8" y="337.5">50</text><text x="216.5" y="339.3">46</text>
</g>
<polyline points="55.5,296.9 71.2,304.2 86.9,307.4 102.6,314.6 118.3,330 134,330 149.7,333.2 165.4,325.1 181.1,326.8 196.8,329.2 212.5,329.2" fill="none" stroke="#696969" stroke-width="1.3"/>
<g fill="#696969"><circle cx="55.5" cy="296.9" r="1.4"/><circle cx="71.2" cy="304.2" r="1.4"/><circle cx="86.9" cy="307.4" r="1.4"/><circle cx="102.6" cy="314.6" r="1.4"/><circle cx="118.3" cy="330" r="1.4"/><circle cx="134" cy="330" r="1.4"/><circle cx="149.7" cy="333.2" r="1.4"/><circle cx="165.4" cy="325.1" r="1.4"/><circle cx="181.1" cy="326.8" r="1.4"/><circle cx="196.8" cy="329.2" r="1.4"/><circle cx="212.5" cy="329.2" r="1.4"/></g>
<g class="tk1" text-anchor="middle">
<text x="53" y="362.3">2015</text><text x="68.7" y="362.3">2016</text><text x="84.4" y="362.3">2017</text><text x="100.1" y="362.3">2018</text><text x="115.8" y="362.3">2019</text><text x="131.5" y="362.3">2020</text><text x="147.2" y="362.3">2021</text><text x="162.9" y="362.3">2022</text><text x="178.6" y="362.3">2023</text><text x="194.3" y="362.3">2024</text><text x="210" y="362.3">2025</text>
</g>
<g style="font-size:4px">
<rect x="29" y="368" width="8" height="3" fill="#708090"/><text x="40" y="371">流动资产合计</text>
<rect x="77" y="368" width="8" height="3" fill="#6b8e23"/><text x="88" y="371">流动负债合计</text>
<rect x="124" y="368" width="8" height="3" fill="#e3a82b"/><text x="135" y="371" textLength="104" lengthAdjust="spacingAndGlyphs">归属母公司股东的权益（标股东权益年度数值,单位亿元）</text>
<rect x="29" y="373.5" width="8" height="3" fill="#4d4d4d"/><text x="40" y="376.5">非流动资产合计</text>
<rect x="77" y="373.5" width="8" height="3" fill="#3f5a1a"/><text x="88" y="376.5">非流动负债合计</text>
<rect x="124" y="373.5" width="8" height="3" fill="#b8860b"/><text x="135" y="376.5">少数股东权益</text>
<line x1="170" y1="375" x2="180" y2="375" stroke="#696969" stroke-width="1.2"/><circle cx="175" cy="375" r="1.2" fill="#696969"/><text x="183" y="376.5">资产负债率</text>
</g>

<!-- ============ CHART 7 ============ -->
<text x="331" y="260.5" style="font-size:12.5px;fill:#b0b0b0" textLength="51" lengthAdjust="spacingAndGlyphs">宝信年报</text>
<text x="471.5" y="264.5" text-anchor="middle" class="ttl" textLength="217" lengthAdjust="spacingAndGlyphs">图7_近三年主要财务会计指标（金融类另列指标，标注第三年度数值，单位为亿元）</text>
<text x="470" y="271.7" text-anchor="middle" class="ttl">审计意见：（标准无保留意见）</text>
<g class="lg">
<rect x="615" y="268" width="7" height="3" fill="#696969"/><text x="625" y="271">2023</text>
<rect x="641.7" y="268" width="7" height="3" fill="#ff8c00"/><text x="652" y="271">2024</text>
<rect x="669.3" y="268" width="7" height="3" fill="#6ea0f5"/><text x="679.5" y="271">2025</text>
</g>
<g>
<line class="g" x1="257" y1="286" x2="685" y2="286"/><line class="g" x1="257" y1="300.7" x2="685" y2="300.7"/><line class="g" x1="257" y1="315.6" x2="685" y2="315.6"/><line class="g" x1="257" y1="330.3" x2="685" y2="330.3"/><line class="g" x1="257" y1="345.3" x2="685" y2="345.3"/>
</g>
<g class="tk1" text-anchor="end">
<text x="254.5" y="287.5">4000</text><text x="254.5" y="302.2">3000</text><text x="254.5" y="317">2000</text><text x="254.5" y="331.7">1000</text><text x="254.5" y="346.8">0</text>
</g>
<text style="font-size:3.2px" transform="translate(249.5,327) rotate(-90)">百万元</text>
<g>
<rect x="276.8" y="329.1" width="1.7" height="16.2" fill="#696969"/><rect x="278.5" y="335.7" width="1.7" height="9.6" fill="#ff8c00"/><rect x="280.2" y="337.2" width="1.7" height="8.1" fill="#6ea0f5"/>
<rect x="320.7" y="343.8" width="1.7" height="1.5" fill="#ff8c00"/>
<rect x="323.5" y="279.1" width="1.7" height="66.2" fill="#696969"/><rect x="325.2" y="286.5" width="1.7" height="58.8" fill="#ff8c00"/><rect x="326.9" y="294.6" width="1.7" height="50.7" fill="#6ea0f5"/>
<rect x="337.5" y="343.1" width="1.7" height="2.2" fill="#696969"/><rect x="339.2" y="342.4" width="1.7" height="2.9" fill="#ff8c00"/><rect x="340.9" y="344.3" width="1.7" height="1" fill="#6ea0f5"/>
<rect x="370.8" y="342.4" width="1.7" height="2.9" fill="#696969"/><rect x="372.5" y="340.9" width="1.7" height="4.4" fill="#ff8c00"/><rect x="374.2" y="342.4" width="1.7" height="2.9" fill="#6ea0f5"/>
<rect x="385.2" y="336.5" width="1.7" height="8.8" fill="#696969"/><rect x="386.9" y="335.7" width="1.7" height="9.6" fill="#ff8c00"/><rect x="388.6" y="334.3" width="1.7" height="11" fill="#6ea0f5"/>
<rect x="394.2" y="342.4" width="1.7" height="2.9" fill="#ff8c00"/>
<rect x="434.9" y="344.3" width="1.7" height="1" fill="#ff8c00"/>
<rect x="439.2" y="324.7" width="1.7" height="20.6" fill="#696969"/><rect x="440.9" y="323.3" width="1.7" height="22" fill="#ff8c00"/><rect x="442.6" y="324.7" width="1.7" height="20.6" fill="#6ea0f5"/>
<rect x="467.5" y="343.1" width="1.7" height="2.2" fill="#ff8c00"/><rect x="469.2" y="341.6" width="1.7" height="3.7" fill="#6ea0f5"/>
<rect x="499.2" y="323.3" width="1.7" height="22" fill="#696969"/><rect x="500.9" y="328.4" width="1.7" height="16.9" fill="#ff8c00"/><rect x="502.6" y="330.6" width="1.7" height="14.7" fill="#6ea0f5"/>
<rect x="506.5" y="340.9" width="1.7" height="4.4" fill="#696969"/><rect x="508.2" y="343.8" width="1.7" height="1.5" fill="#ff8c00"/><rect x="509.9" y="340.9" width="1.7" height="4.4" fill="#6ea0f5"/>
<rect x="520.8" y="343.1" width="1.7" height="2.2" fill="#696969"/><rect x="522.5" y="343.1" width="1.7" height="2.2" fill="#ff8c00"/><rect x="524.2" y="343.8" width="1.7" height="1.5" fill="#6ea0f5"/>
<rect x="533.2" y="341.6" width="1.7" height="3.7" fill="#696969"/><rect x="534.9" y="341.6" width="1.7" height="3.7" fill="#ff8c00"/><rect x="536.6" y="343.1" width="1.7" height="2.2" fill="#6ea0f5"/>
<rect x="567.5" y="338.7" width="1.7" height="6.6" fill="#696969"/><rect x="569.2" y="339.4" width="1.7" height="5.9" fill="#ff8c00"/><rect x="570.9" y="343.1" width="1.7" height="2.2" fill="#6ea0f5"/>
<rect x="630.1" y="345.3" width="1.7" height="1.5" fill="#696969"/><rect x="631.9" y="345.3" width="1.7" height="2.9" fill="#6ea0f5"/>
<rect x="635.2" y="345.3" width="1.7" height="2.9" fill="#696969"/><rect x="636.9" y="345.3" width="1.7" height="4.4" fill="#ff8c00"/><rect x="638.6" y="345.3" width="1.7" height="5.9" fill="#6ea0f5"/>
<rect x="649.2" y="345.3" width="1.7" height="1" fill="#696969"/><rect x="650.9" y="345.3" width="1.7" height="3.7" fill="#ff8c00"/><rect x="652.6" y="345.3" width="1.7" height="8.1" fill="#6ea0f5"/>
<rect x="655.8" y="345.3" width="1.7" height="5.9" fill="#696969"/><rect x="657.5" y="345.3" width="1.7" height="1.5" fill="#ff8c00"/><rect x="659.2" y="345.3" width="1.7" height="8.1" fill="#6ea0f5"/>
<rect x="661.8" y="321.8" width="1.7" height="23.5" fill="#696969"/><rect x="663.5" y="324" width="1.7" height="21.3" fill="#ff8c00"/><rect x="665.2" y="329.9" width="1.7" height="15.4" fill="#6ea0f5"/>
</g>
<line class="ax" x1="257" y1="354.3" x2="685" y2="354.3"/>
<g style="font-size:3.2px" text-anchor="middle">
<text x="282" y="327.8">6</text><text x="300" y="343.5">0.0</text><text x="313.3" y="343.5">0.0</text><text x="321.3" y="342.5">0.3</text><text x="328" y="277.7">34</text><text x="340.5" y="341.5">1</text><text x="347.5" y="343.5">0.2</text><text x="374" y="339.5">0.7</text><text x="388.5" y="333">8</text><text x="395.5" y="341.3">1</text><text x="416" y="343.5">0.0</text><text x="429" y="343.5">0.0</text><text x="436" y="343">0.5</text><text x="442.5" y="322">14</text><text x="469" y="340.3">2</text><text x="476" y="343.5">0.3</text><text x="497" y="343.5">0.1</text><text x="502.5" y="322">10</text><text x="509.5" y="339.5">2</text><text x="517" y="343.5">0.1</text><text x="524" y="341.7">0.6</text><text x="536" y="340.5">0.6</text><text x="570.5" y="337.5">3</text><text x="584.5" y="343.5">0.2</text><text x="590.5" y="343.5">0.3</text><text x="604.5" y="343.5">0.4</text><text x="611" y="343.5">0.2</text><text x="631" y="343.5">-0.6</text><text x="645.5" y="343.5">0.0</text><text x="664.5" y="320.5">10</text>
</g>
<g class="vl">
<text transform="translate(278,358) rotate(90)">货币资金</text>
<text transform="translate(284.7,358) rotate(90)">交易性金融资产</text>
<text transform="translate(291.3,358) rotate(90)">应收票据</text>
<text transform="translate(298,358) rotate(90)">应收账款</text>
<text transform="translate(304.7,358) rotate(90)">应收款项融资</text>
<text transform="translate(311.4,358) rotate(90)">预付款项</text>
<text transform="translate(318,358) rotate(90)">其他应收款(合计)</text>
<text transform="translate(324.7,358) rotate(90)">存货</text>
<text transform="translate(331.4,358) rotate(90)">合同资产</text>
<text transform="translate(338,358) rotate(90)">持有待售资产</text>
<text transform="translate(344.7,358) rotate(90)">一年内到期的非流动资产</text>
<text transform="translate(351.4,358) rotate(90)">其他流动资产</text>
<text transform="translate(358,358) rotate(90)">债权投资</text>
<text transform="translate(364.7,358) rotate(90)">长期应收款</text>
<text transform="translate(371.4,358) rotate(90)">长期股权投资</text>
<text transform="translate(378.1,358) rotate(90)">其他权益工具投资</text>
<text transform="translate(384.7,358) rotate(90)">投资性房地产</text>
<text transform="translate(391.4,358) rotate(90)">固定资产(合计)</text>
<text transform="translate(398.1,358) rotate(90)">在建工程(合计)</text>
<text transform="translate(404.7,358) rotate(90)">使用权资产</text>
<text transform="translate(411.4,358) rotate(90)">无形资产</text>
<text transform="translate(418.1,358) rotate(90)">开发支出</text>
<text transform="translate(424.7,358) rotate(90)">商誉</text>
<text transform="translate(431.4,358) rotate(90)">长期待摊费用</text>
<text transform="translate(438.1,358) rotate(90)">递延所得税资产</text>
<text transform="translate(444.8,358) rotate(90)">其他非流动资产</text>
<text transform="translate(451.4,358) rotate(90)">短期借款</text>
<text transform="translate(458.1,358) rotate(90)">交易性金融负债</text>
<text transform="translate(464.8,358) rotate(90)">应付票据</text>
<text transform="translate(471.4,358) rotate(90)">应付账款</text>
<text transform="translate(478.1,358) rotate(90)">预收款项</text>
<text transform="translate(484.8,358) rotate(90)">合同负债</text>
<text transform="translate(491.4,358) rotate(90)">应付职工薪酬</text>
<text transform="translate(498.1,358) rotate(90)">其他应付款(合计)</text>
<text transform="translate(504.8,358) rotate(90)">应交税费</text>
<text transform="translate(511.5,358) rotate(90)">一年内到期的非流动负债</text>
<text transform="translate(518.1,358) rotate(90)">其他流动负债</text>
<text transform="translate(524.8,358) rotate(90)">长期借款</text>
<text transform="translate(531.5,358) rotate(90)">应付债券</text>
<text transform="translate(538.1,358) rotate(90)">租赁负债</text>
<text transform="translate(544.8,358) rotate(90)">长期应付款(合计)</text>
<text transform="translate(551.5,358) rotate(90)">预计负债</text>
<text transform="translate(558.1,358) rotate(90)">递延收益</text>
<text transform="translate(564.8,358) rotate(90)">递延所得税负债</text>
<text transform="translate(571.5,358) rotate(90)">其他非流动负债</text>
<text transform="translate(578.2,358) rotate(90)">实收资本(或股本)</text>
<text transform="translate(584.8,358) rotate(90)">资本公积</text>
<text transform="translate(591.5,358) rotate(90)">盈余公积</text>
<text transform="translate(598.2,358) rotate(90)">未分配利润</text>
<text transform="translate(604.8,358) rotate(90)">营业总收入</text>
<text transform="translate(611.5,358) rotate(90)">营业成本</text>
<text transform="translate(618.2,358) rotate(90)">销售费用</text>
<text transform="translate(624.8,358) rotate(90)">管理费用</text>
<text transform="translate(631.5,358) rotate(90)">财务费用</text>
<text transform="translate(638.2,358) rotate(90)">投资收益</text>
<text transform="translate(644.9,358) rotate(90)">营业利润</text>
<text transform="translate(651.5,358) rotate(90)">利润总额</text>
<text transform="translate(658.2,358) rotate(90)">净利润</text>
<text transform="translate(664.9,358) rotate(90)">经营活动现金流量净额</text>
</g>

<!-- ============ CHART 4 ============ -->
<text x="140" y="391" text-anchor="middle" style="font-size:5.3px" textLength="128" lengthAdjust="spacingAndGlyphs">图4_历年总市值、市盈率（TTM）（截至2026年4月）</text>
<g>
<line class="g" x1="41" y1="395" x2="233" y2="395"/><line class="g" x1="41" y1="411" x2="233" y2="411"/><line class="g" x1="41" y1="427" x2="233" y2="427"/><line class="g" x1="41" y1="443" x2="233" y2="443"/><line class="g" x1="41" y1="459" x2="233" y2="459"/>
</g>
<g class="tk" text-anchor="end">
<text x="39.5" y="396.5">250</text><text x="39.5" y="412.5">200</text><text x="39.5" y="428.5">150</text><text x="39.5" y="444.5">100</text><text x="39.5" y="460.5">50</text><text x="39.5" y="476.5">0</text>
</g>
<g class="tk">
<text x="242" y="396.5">100</text><text x="242" y="412.5">80</text><text x="242" y="428.5">60</text><text x="242" y="444.5">40</text><text x="242" y="460.5">20</text><text x="242" y="476.5">0</text>
</g>
<text class="sm" transform="translate(28,440) rotate(-90)">亿元</text>
<path d="M50.7,475 L50.7,449.3 L52.7,450 L54.3,440 L56,438.7 L57.7,443.3 L60,451.7 L61.7,457.3 L64,456.7 L65.7,450 L66.7,448.3 L68.3,456 L70,451.7 L73,452.5 L76.7,452 L79.3,450 L81.7,451.7 L85,452.7 L87.3,452.7 L89.3,456 L93.3,457.3 L97,457 L100,458.3 L104,458 L106.7,459.3 L109,460 L111.7,464 L114.3,465 L116,459.3 L118.3,462.7 L122,463.5 L126.7,463.3 L130,462.5 L133.3,462.7 L138,462 L143.3,462 L147,461 L151.7,460.7 L156.7,460 L160,459.5 L163.3,459.3 L166.7,458 L170,460.7 L173,461.5 L176.7,462 L180,462.5 L183.3,462.7 L187,463.5 L190,464 L193,465.5 L195,466.7 L200,466.7 L203,465.5 L205,464.7 L208,464.5 L211.7,464 L215,463.5 L218.3,463.3 L221,463 L223.3,462.7 L226.7,460 L229.3,459.3 L229.3,475 Z" fill="#6495ed"/>
<g clip-path="url(#c4)">
<path d="M50.7,454.3 L52.7,453.3 L54.8,385 L57.3,385 L58.3,424.3 L59.3,423.3 L60.5,385 L68.7,385 L69.5,485 L75.5,485 L76.5,385 L90.8,385 L91.6,485 L114.6,485 L115,468.3 L116.7,469.3 L124,469.5 L132.7,470 L133.3,385 L139,385 L139.3,446.7 L141.7,447.3 L144,448.3 L146,443.3 L147.7,420 L149,436.7 L150,446 L152.7,449.3 L155,450 L156.7,448.3 L158.3,440.7 L160.7,439.3 L162.7,436.7 L165,431.7 L165.7,426.7 L167.3,429.3 L168.3,425 L169,430 L170,412.7 L171,416.7 L172,423.3 L172.7,485 L193.3,485 L193.6,385 L197,385 L197.3,485 L230,485" fill="none" stroke="#ff8c00" stroke-width="1.3" stroke-linejoin="round"/>
</g>
<line class="ax" x1="41" y1="475" x2="233" y2="475"/>
<text x="228.5" y="458.5" class="tk1" text-anchor="middle">46</text>
<g class="tk1" text-anchor="middle">
<text x="50.7" y="481">2015</text><text x="66.55" y="481">2016</text><text x="82.4" y="481">2017</text><text x="98.25" y="481">2018</text><text x="114.1" y="481">2019</text><text x="129.95" y="481">2020</text><text x="145.8" y="481">2021</text><text x="161.65" y="481">2022</text><text x="177.5" y="481">2023</text><text x="193.35" y="481">2024</text><text x="209.2" y="481">2025</text><text x="225.05" y="481">2026</text>
</g>
<rect x="96.7" y="485" width="7.5" height="3.2" fill="#6495ed"/><text x="107" y="488" class="lg">历年总市值/左轴</text>
<line x1="143.3" y1="486.6" x2="151.7" y2="486.6" stroke="#ff8c00" stroke-width="1.3"/><text x="155" y="488" class="lg">市盈率（TTM）/右轴</text>

<!-- ============ CHART 8 ============ -->
<text x="355" y="395.8" text-anchor="middle" style="font-size:4.8px">图8_前十大股东/2025年</text>
<text x="270" y="402.3" style="font-size:5px" textLength="169" lengthAdjust="spacingAndGlyphs">总股本93604万股/前十名共质押0万股/前十名共限售0万股/前十名共冻结0万股</text>
<path d="M314.5,444 L314.5,408 A36,36 0 1 0 319.24,479.69 Z" fill="#a9a9a9"/>
<path d="M314.5,444 L319.24,479.69 A36,36 0 0 0 322.79,479.03 Z" fill="#ffb6c1"/>
<path d="M314.5,444 L322.79,479.03 A36,36 0 0 0 325.84,478.17 Z" fill="#8b0000"/>
<path d="M314.5,444 L325.84,478.17 A36,36 0 0 0 328.17,477.3 Z" fill="#696969"/>
<path d="M314.5,444 L328.17,477.3 A36,36 0 0 0 329.83,476.57 Z" fill="#ee82ee"/>
<path d="M314.5,444 L329.83,476.57 A36,36 0 0 0 331.45,475.76 Z" fill="#6a5acd"/>
<path d="M314.5,444 L331.45,475.76 A36,36 0 0 0 332.82,474.99 Z" fill="#ffa500"/>
<path d="M314.5,444 L332.82,474.99 A36,36 0 0 0 334.17,474.15 Z" fill="#808080"/>
<path d="M314.5,444 L334.17,474.15 A36,36 0 0 0 335.29,473.39 Z" fill="#bc8f8f"/>
<path d="M314.5,444 L335.29,473.39 A36,36 0 0 0 336.39,472.58 Z" fill="#ffd700"/>
<path d="M314.5,444 L336.39,472.58 A36,36 0 0 0 314.5,408 Z" fill="#800080"/>
<g style="font-size:3.4px">
<rect x="375" y="415.2" width="6" height="3" fill="#a9a9a9"/><text x="382.5" y="418">江苏凤凰出版传媒集团有限公司 48768万股 52.1%</text>
<rect x="375" y="420.8" width="6" height="3" fill="#ffb6c1"/><text x="382.5" y="423.6">王丽利 1523万股 1.6%</text>
<rect x="375" y="426.5" width="6" height="3" fill="#8b0000"/><text x="382.5" y="429.3">张新宏 1301万股 1.4%</text>
<rect x="375" y="432.2" width="6" height="3" fill="#696969"/><text x="382.5" y="435">周春英 1000万股 1.1%</text>
<rect x="375" y="437.8" width="6" height="3" fill="#ee82ee"/><text x="382.5" y="440.6">林超华 794万股 0.8%</text>
<rect x="375" y="443.5" width="6" height="3" fill="#6a5acd"/><text x="382.5" y="446.3">林鹏 777万股 0.8%</text>
<rect x="375" y="449.2" width="6" height="3" fill="#ffa500"/><text x="382.5" y="452">陈友林 643万股 0.7%</text>
<rect x="375" y="454.5" width="6" height="3" fill="#808080"/><text x="382.5" y="457.3">中信证券资产管理(香港)有限公司-客户资金 617万股 0.7%</text>
<rect x="375" y="460.2" width="6" height="3" fill="#bc8f8f"/><text x="382.5" y="463">刘德影 587万股 0.6%</text>
<rect x="375" y="465.8" width="6" height="3" fill="#ffd700"/><text x="382.5" y="468.6">张广君 583万股 0.6%</text>
<rect x="375" y="471.8" width="6" height="3" fill="#800080"/><text x="382.5" y="474.6">其他股东</text>
</g>

<!-- ============ PIE 10-1 ============ -->
<text x="544.2" y="395.8" text-anchor="middle" style="font-size:4.7px">图10-1_总资产（百万元）</text>
<text x="545" y="401.7" text-anchor="middle" style="font-size:4.5px">2025年/6647</text>
<path d="M545,444.5 L545,408.5 A36,36 0 0 1 580.21,437.02 Z" fill="#00ffff"/>
<path d="M545,444.5 L580.21,437.02 A36,36 0 0 1 580.86,441.36 Z" fill="#c71585"/>
<path d="M545,444.5 L580.86,441.36 A36,36 0 0 1 573.37,466.66 Z" fill="#98fb98"/>
<path d="M545,444.5 L573.37,466.66 A36,36 0 0 1 571.33,469.05 Z" fill="#800080"/>
<path d="M545,444.5 L571.33,469.05 A36,36 0 0 1 564.61,474.69 Z" fill="#f08080"/>
<path d="M545,444.5 L564.61,474.69 A36,36 0 0 1 524.87,414.66 Z" fill="#a9a9a9"/>
<path d="M545,444.5 L524.87,414.66 A36,36 0 0 1 527,413.32 Z" fill="#ffa500"/>
<path d="M545,444.5 L527,413.32 A36,36 0 0 1 545,408.5 Z" fill="#ff0000"/>
<g style="font-size:3.5px">
<text x="553" y="434">- 其它21% -</text>
<text x="561" y="450.3">- 投资性房地产12%</text>
<text x="514.5" y="432">- 货币资金8% -</text>
<text x="514" y="453.6">- 存货51% -</text>
</g>

<!-- ============ PIE 10-2 ============ -->
<text x="645.8" y="395.8" text-anchor="middle" style="font-size:4.7px">图10-2_总负债（百万元）</text>
<text x="646.5" y="401.7" text-anchor="middle" style="font-size:4.5px">2025年/2093</text>
<path d="M646.7,444.5 L646.7,409 A35.5,35.5 0 0 1 681.15,435.91 Z" fill="#00ffff"/>
<path d="M646.7,444.5 L681.15,435.91 A35.5,35.5 0 0 1 682.11,446.98 Z" fill="#ffa500"/>
<path d="M646.7,444.5 L682.11,446.98 A35.5,35.5 0 0 1 667.06,473.58 Z" fill="#1e90ff"/>
<path d="M646.7,444.5 L667.06,473.58 A35.5,35.5 0 0 1 622.04,418.96 Z" fill="#a9a9a9"/>
<path d="M646.7,444.5 L622.04,418.96 A35.5,35.5 0 0 1 646.7,409 Z" fill="#4682b4"/>
<g style="font-size:3.5px">
<text x="656" y="434">- 其它21% -</text>
<text x="663" y="452">- 一年内到期的非流动负债14%</text>
<text x="613.5" y="432.3">- 应付账款12% -</text>
<text x="604" y="454.6">- 其他应付款49% -</text>
</g>

<!-- BOTTOM WATERMARK -->
<text x="185" y="498" style="font-size:12.5px;fill:#a8a8a8" textLength="343" lengthAdjust="spacingAndGlyphs">www.bxnb88.com 宝信年报 软著登字第4006027号 13911560877</text>
</svg>
</body></html>
